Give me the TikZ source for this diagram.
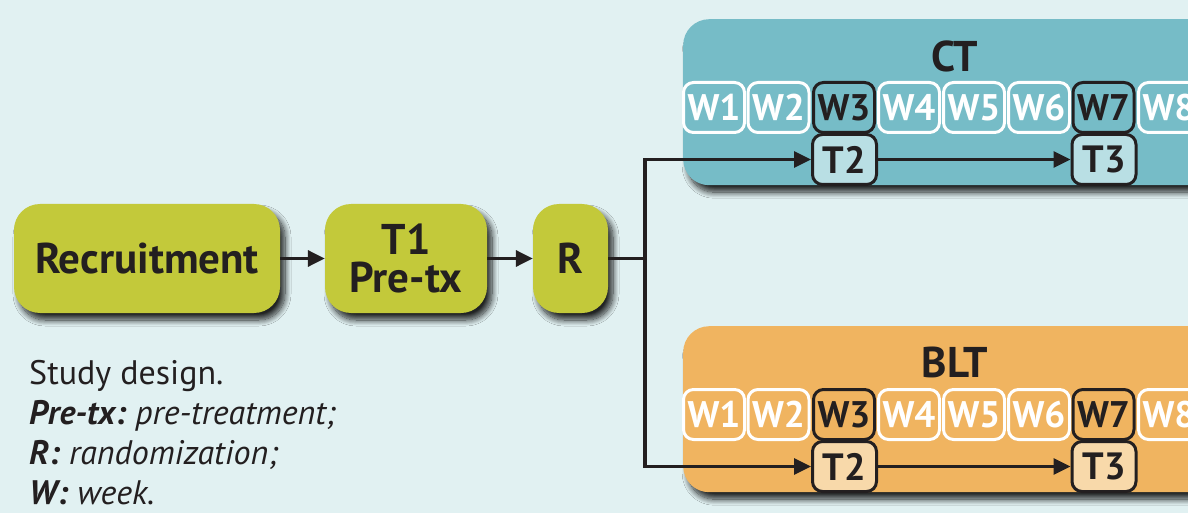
\documentclass[tikz,border=0pt]{standalone}
\usepackage{fontspec}
\setmainfont{PT Sans}
\usetikzlibrary{arrows.meta,shadows,shadows.blur}
\definecolor{bgc}{HTML}{E1F1F2}
\definecolor{olive}{HTML}{C3C93A}
\definecolor{teal}{HTML}{76BCC7}
\definecolor{teallt}{HTML}{B9DFE4}
\definecolor{orng}{HTML}{F0B460}
\definecolor{orglt}{HTML}{F8D9AA}
\definecolor{ink}{HTML}{231F20}
\tikzset{
  shd/.style={blur shadow={shadow xshift=5pt, shadow yshift=-7pt, shadow blur radius=6pt, shadow blur steps=12, shadow opacity=85}},
  stage/.style={shd, fill=olive, rounded corners=26pt, text=ink, font=\fontsize{43}{38}\selectfont\bfseries, align=center, inner sep=0pt, minimum height=109pt},
  arm/.style={shd, rounded corners=26pt, minimum width=560pt, minimum height=166pt, anchor=north west, inner sep=0pt},
  title/.style={text=ink, font=\fontsize{43}{43}\selectfont\bfseries},
  wk/.style={draw=white, line width=3pt, rounded corners=10pt, text=white, font=\fontsize{37}{37}\selectfont\bfseries, minimum width=61pt, minimum height=50pt, inner sep=0pt},
  wkx/.style={wk, draw=ink, text=ink},
  tp/.style={draw=ink, line width=3pt, rounded corners=10pt, text=ink, font=\fontsize{38}{38}\selectfont\bfseries, minimum width=64pt, minimum height=50pt, inner sep=0pt},
  arr/.style={draw=ink, line width=3.3pt, -{Triangle[length=17pt,width=16pt]}},
  ln/.style={draw=ink, line width=3.3pt}
}
\begin{document}
\begin{tikzpicture}[x=1pt,y=-1pt]
\fill[bgc] (0,0) rectangle (1188,513);
\useasboundingbox (0,0) rectangle (1188,513);
\clip (0,0) rectangle (1188,513);
% left stages
\node[stage, minimum width=266pt] (rec) at (147,258.5) {Recruitment};
\node[stage, minimum width=162pt] (t1) at (406,258.5) {T1\\Pre-tx};
\node[stage, minimum width=75pt] (r) at (570.5,258.5) {R};
\draw[arr] (rec) -- (t1);
\draw[arr] (t1) -- (r);
% arms
\node[arm, fill=teal] (ct) at (683,19) {};
\node[arm, fill=orng] (blt) at (683,326) {};
\node[title] (ctt) at (955,56) {CT};
\node[title] (bltt) at (955,362) {BLT};
% CT weeks
\node[wk] (cw1) at (714,107.5) {W1};
\node[wk] (cw2) at (778.5,107.5) {W2};
\node[wkx] (cw3) at (844,107.5) {W3};
\node[wk] (cw4) at (909,107.5) {W4};
\node[wk] (cw5) at (974,107.5) {W5};
\node[wk] (cw6) at (1039,107.5) {W6};
\node[wkx] (cw7) at (1103.5,107.5) {W7};
\node[wk] (cw8) at (1169,107.5) {W8};
\node[tp, fill=teallt] (ct2) at (844.5,159.5) {T2};
\node[tp, fill=teallt] (ct3) at (1104,159.5) {T3};
% BLT weeks
\node[wk] (bw1) at (714,414.5) {W1};
\node[wk] (bw2) at (778.5,414.5) {W2};
\node[wkx] (bw3) at (844,414.5) {W3};
\node[wk] (bw4) at (909,414.5) {W4};
\node[wk] (bw5) at (974,414.5) {W5};
\node[wk] (bw6) at (1039,414.5) {W6};
\node[wkx] (bw7) at (1103.5,414.5) {W7};
\node[wk] (bw8) at (1169,414.5) {W8};
\node[tp, fill=orglt] (bt2) at (844.5,466.5) {T2};
\node[tp, fill=orglt] (bt3) at (1104,466.5) {T3};
% connectors
\coordinate (split) at (645,258.5);
\draw[ln] (r) -- (split);
\draw[arr] (split) |- (ct2.west);
\draw[arr] (split) |- (bt2.west);
\draw[arr] (ct2) -- (ct3);
\draw[arr] (bt2) -- (bt3);
% legend
\node[anchor=north west, align=left, text=ink, font=\fontsize{34}{40}\selectfont, inner sep=0pt] (leg) at (29,360)
  {Study design.\\
   \textbf{\textit{Pre-tx:}}\hspace{9pt}\textit{pre-treatment;}\\
   \textbf{\textit{R:}}\hspace{9pt}\textit{randomization;}\\
   \textbf{\textit{W:}}\hspace{9pt}\textit{week.}};
\end{tikzpicture}
\end{document}
